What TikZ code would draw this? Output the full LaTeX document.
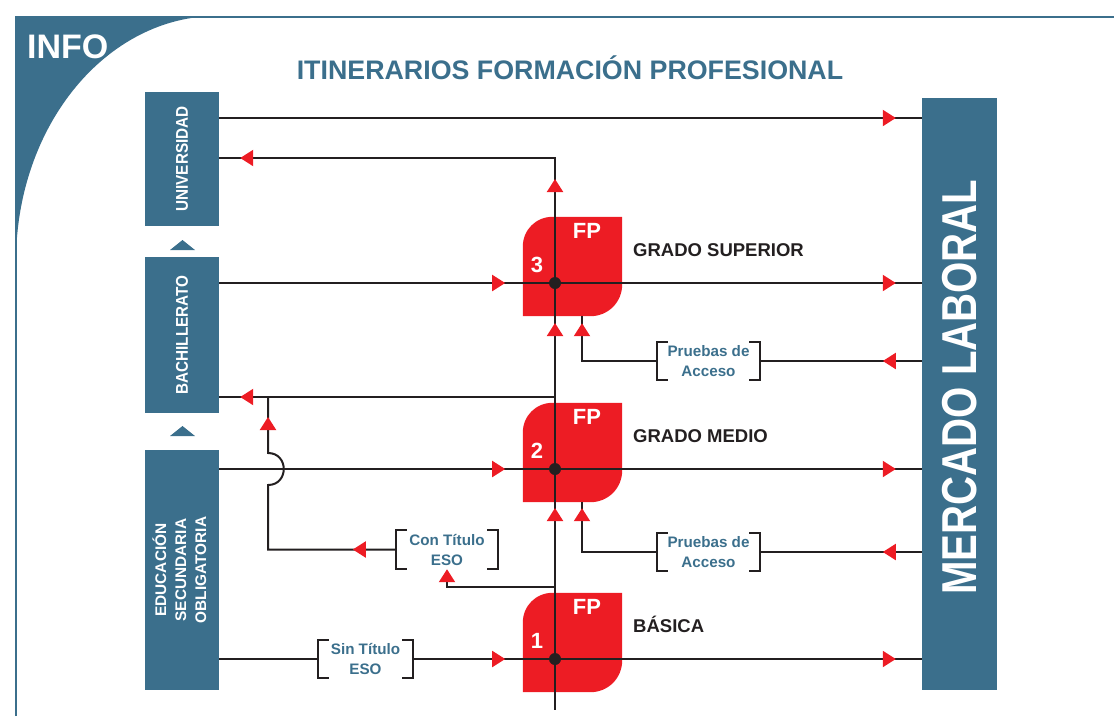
\documentclass[tikz,border=0pt]{standalone}
\usepackage{fontspec}
\setmainfont{Liberation Sans}
\usetikzlibrary{arrows.meta,decorations.markings,calc}
\definecolor{infoblue}{RGB}{59,111,140}
\definecolor{fpred}{RGB}{237,28,36}
\definecolor{ink}{RGB}{35,31,32}
\pgfdeclarelayer{bg}
\pgfsetlayers{bg,main}
\newcommand\fpshape[1]{%
  \fill[fpred] (#1.south west) -- ([yshift=-30pt]#1.north west)
    .. controls ([yshift=-13pt]#1.north west) and ([xshift=13pt]#1.north west) .. ([xshift=30pt]#1.north west)
    -- (#1.north east) -- ([yshift=32pt]#1.south east)
    .. controls ([yshift=14pt]#1.south east) and ([xshift=-14pt]#1.south east) .. ([xshift=-32pt]#1.south east)
    -- cycle;}
\newcommand\drawbrackets[1]{%
  \draw[brkline] ([xshift=11pt]#1.north west) -- (#1.north west) -- (#1.south west) -- ([xshift=11pt]#1.south west);
  \draw[brkline] ([xshift=-11pt]#1.north east) -- (#1.north east) -- (#1.south east) -- ([xshift=-11pt]#1.south east);}
\tikzset{
  conn/.style={draw=ink, line width=2pt},
  brkline/.style={draw=ink, line width=2pt},
  tipat/.style={postaction={decorate,decoration={markings,
      mark=at position #1 with {\arrow{Triangle[width=16pt,length=13pt,color=fpred]}}}}},
  redtip/.style={-{Triangle[width=16pt,length=13pt,color=fpred]}},
  lbox/.style={fill=infoblue, minimum width=74pt, inner sep=0pt, text=white, font=\bfseries},
  fpbox/.style={minimum width=99pt, minimum height=99pt, inner sep=0pt},
  fplbl/.style={text=white, inner sep=0pt, font=\bfseries\fontsize{22}{22}\selectfont},
  jdot/.style={circle, fill=ink, minimum size=12pt, inner sep=0pt},
  lvl/.style={text=ink, inner sep=0pt, anchor=base west, font=\bfseries\fontsize{18.5}{20}\selectfont},
  brk/.style={inner sep=0pt, align=center, text=infoblue, font=\bfseries\fontsize{15.2}{20}\selectfont},
}
\begin{document}
\begin{tikzpicture}[x=1pt,y=-1pt]
\useasboundingbox (0,0) rectangle (1114,716);
% frame
\begin{pgfonlayer}{bg}
\fill[infoblue] (16,16) -- (217,16) .. controls (107,16) and (16,125) .. (16,262) -- cycle;
\end{pgfonlayer}
\draw[infoblue, line width=2.5pt] (16,716) -- (16,17) -- (1114,17);
\node[text=white, inner sep=0pt, anchor=base west, font=\bfseries\fontsize{34}{34}\selectfont] (info) at (27,58) {INFO};
\node[text=infoblue, inner sep=0pt, anchor=base, font=\bfseries\fontsize{26.8}{28}\selectfont] (title) at (570,79) {ITINERARIOS FORMACIÓN PROFESIONAL};

% left boxes
\node[lbox, minimum height=134pt] (uni) at (182,159) {\rotatebox{90}{\scalebox{0.9}[1]{\fontsize{17}{20}\selectfont UNIVERSIDAD}}};
\node[lbox, minimum height=156pt] (bach) at (182,335) {\rotatebox{90}{\scalebox{0.9}[1]{\fontsize{17}{20}\selectfont BACHILLERATO}}};
\node[lbox, minimum height=240pt] (eso) at (182,570) {\rotatebox{90}{\fontsize{15.4}{20}\selectfont\begin{tabular}{@{}c@{}}EDUCACIÓN\\SECUNDARIA\\OBLIGATORIA\end{tabular}}};
\fill[infoblue] (170,250) -- (195,250) -- (182.5,240) -- cycle;
\fill[infoblue] (170,436) -- (195,436) -- (182.5,426) -- cycle;

% right box
\node[lbox, minimum width=75pt, minimum height=592pt] (merc) at (959.5,394) {\rotatebox{90}{\hspace*{14pt}\scalebox{0.82}[1]{\fontsize{49}{50}\selectfont MERCADO LABORAL}}};

% FP boxes
\node[fpbox] (fp3) at (572.5,266.5) {};
\node[fpbox] (fp2) at (572.5,452.5) {};
\node[fpbox] (fp1) at (572.5,642.5) {};
\begin{pgfonlayer}{bg}
\fpshape{fp3}\fpshape{fp2}\fpshape{fp1}
\end{pgfonlayer}
\node[fplbl] (fp3t) at (587,231) {FP};
\node[fplbl] (fp3n) at (537,265) {3};
\node[fplbl] (fp2t) at (587,417) {FP};
\node[fplbl] (fp2n) at (537,451) {2};
\node[fplbl] (fp1t) at (587,607) {FP};
\node[fplbl] (fp1n) at (537,641) {1};
\node[lvl] (gs) at (633,256) {GRADO SUPERIOR};
\node[lvl] (gm) at (633,442) {GRADO MEDIO};
\node[lvl] (gb) at (633,632) {BÁSICA};

% brackets
\node[brk, minimum width=103pt, minimum height=38pt] (pa3) at (708.5,361) {Pruebas de\\Acceso};
\node[brk, minimum width=103pt, minimum height=38pt] (pa2) at (708.5,552) {Pruebas de\\Acceso};
\node[brk, minimum width=102pt, minimum height=39pt] (con) at (447,549.5) {Con Título\\ESO};
\node[brk, minimum width=95pt, minimum height=37pt] (sin) at (365.5,659) {Sin Título\\ESO};
\drawbrackets{pa3}\drawbrackets{pa2}\drawbrackets{con}\drawbrackets{sin}

% junction coordinates
\coordinate (dot3c) at (555,283);
\coordinate (dot2c) at (555,469);
\coordinate (dot1c) at (555,659);
\coordinate (c118) at (0,118);
\coordinate (top) at (555,158);
\coordinate (bot) at (555,710);
\coordinate (j397) at (555,397);
\coordinate (j587) at (555,587);
\coordinate (xk) at (582,0);
\coordinate (xb) at (268,0);
\coordinate (bumpA) at (268,485);
\coordinate (bumpB) at (268,453);

% connectors
\draw[conn, tipat=-26pt] (uni.east |- c118) -- (merc.west |- c118);
\draw[conn, tipat=104pt, tipat=-21pt] (dot3c) -- (top) -- (uni.east |- top);
\draw[conn, tipat=-39pt] (dot1c) -- (dot2c);
\draw[conn, tipat=-40pt] (dot2c) -- (dot3c);
\draw[conn] (dot1c) -- (bot);
\draw[conn, tipat=-21pt] (j397) -- (bach.east |- j397);
\draw[conn, tipat=286pt, tipat=-26pt] (bach.east |- dot3c) -- (merc.west |- dot3c);
\draw[conn, tipat=286pt, tipat=-26pt] (eso.east |- dot2c) -- (merc.west |- dot2c);
\draw[conn] (eso.east |- dot1c) -- (sin.west);
\draw[conn, tipat=92pt, tipat=-26pt] (sin.east) -- (merc.west |- dot1c);
\draw[conn, tipat=39pt] (merc.west |- pa3) -- (pa3.east);
\draw[conn, tipat=-7pt] (pa3.west) -- (xk |- pa3) -- (xk |- fp3.south);
\draw[conn, tipat=39pt] (merc.west |- pa2) -- (pa2.east);
\draw[conn, tipat=-6pt] (pa2.west) -- (xk |- pa2) -- (xk |- fp2.south);
\draw[conn, redtip] (j587) -- (j587 -| con) -- (con.south);
\draw[conn, tipat=43pt, tipat=-20pt] (con.west) -- (xb |- con.west) -- (bumpA)
   .. controls ([xshift=21pt]bumpA) and ([xshift=21pt]bumpB) .. (bumpB) -- (xb |- j397);

% junction dots
\node[jdot] (dot3) at (dot3c) {};
\node[jdot] (dot2) at (dot2c) {};
\node[jdot] (dot1) at (dot1c) {};
\end{tikzpicture}
\end{document}
